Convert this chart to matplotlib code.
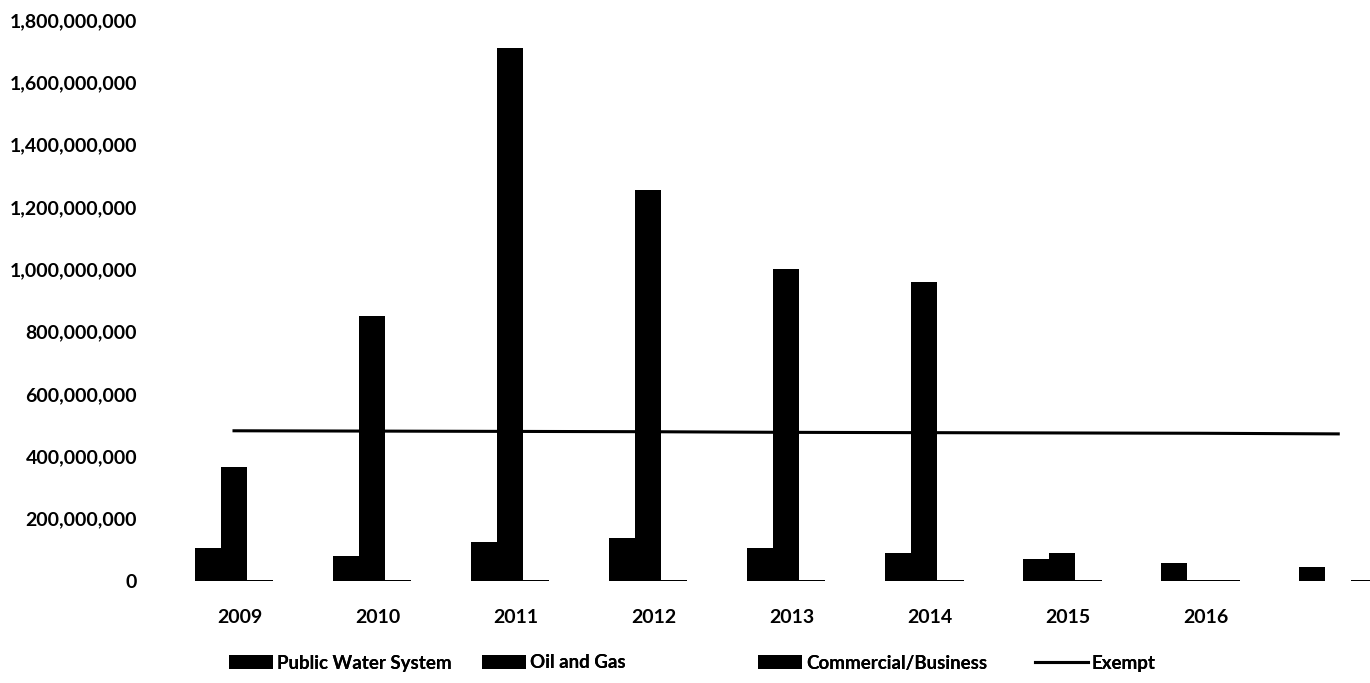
import numpy as np
import matplotlib
matplotlib.use('Agg')
import matplotlib.pyplot as plt
from matplotlib.ticker import FuncFormatter

# water use by category, gallons per year
years = ['2009', '2010', '2011', '2012', '2013', '2014', '2015', '2016', '']
public_water = [106e6, 80e6, 125e6, 138e6, 106e6, 90e6, 71e6, 58e6, 45e6]
oil_gas = [366e6, 850e6, 1710e6, 1255e6, 1002e6, 960e6, 90e6, 2e6, 1e6]
commercial = [3e6, 3e6, 3e6, 3e6, 3e6, 3e6, 3e6, 2e6, 2e6]
exempt = [482e6, 481e6, 480e6, 479e6, 477e6, 476e6, 475e6, 474e6, 472e6]

plt.rcParams['font.family'] = ['Lato', 'DejaVu Sans']
plt.rcParams['font.size'] = 14
plt.rcParams['font.weight'] = 'bold'

fig = plt.figure(figsize=(13.7, 6.83), dpi=100)
W, H = 1370., 683.
ax = fig.add_axes([165/W, (H-581)/H, (W-165)/W, (581-20)/H])

x = np.arange(len(years))
bw = 0.19
b1 = ax.bar(x - bw, public_water, bw, color='black', label='Public Water System')
b2 = ax.bar(x, oil_gas, bw, color='black', label='Oil and Gas')
b3 = ax.bar(x + bw, commercial, bw, color='black', label='Commercial/Business')
l1, = ax.plot(x, exempt, color='black', lw=2.2, label='Exempt')

ax.set_ylim(0, 1.8e9)
ax.set_xlim(-0.5, 8.23)
ax.set_yticks(np.arange(0, 1.8e9 + 1, 2e8))
ax.yaxis.set_major_formatter(FuncFormatter(lambda v, p: '{:,.0f}'.format(v)))
ax.set_xticks(x + 0.04)
ax.set_xticklabels(years)
for s in ax.spines.values():
    s.set_visible(False)
ax.tick_params(axis='both', length=0)
ax.tick_params(axis='y', pad=20)
ax.tick_params(axis='x', pad=20)

# one legend per entry so each sits at its own spot along the bottom
entries = [(b1, 229, 2.35), (b2, 482, 2.35), (b3, 758, 2.35), (l1, 1035, 2.8)]
for h, px, hl in entries:
    leg = fig.legend(handles=[h], loc='center left', bbox_to_anchor=(px/W, (H-663)/H),
                     frameon=False, fontsize=13.5, handlelength=hl, handleheight=0.85,
                     handletextpad=0.2, borderpad=0, borderaxespad=0)
    fig.add_artist(leg)

fig.savefig('out.png', dpi=100)
